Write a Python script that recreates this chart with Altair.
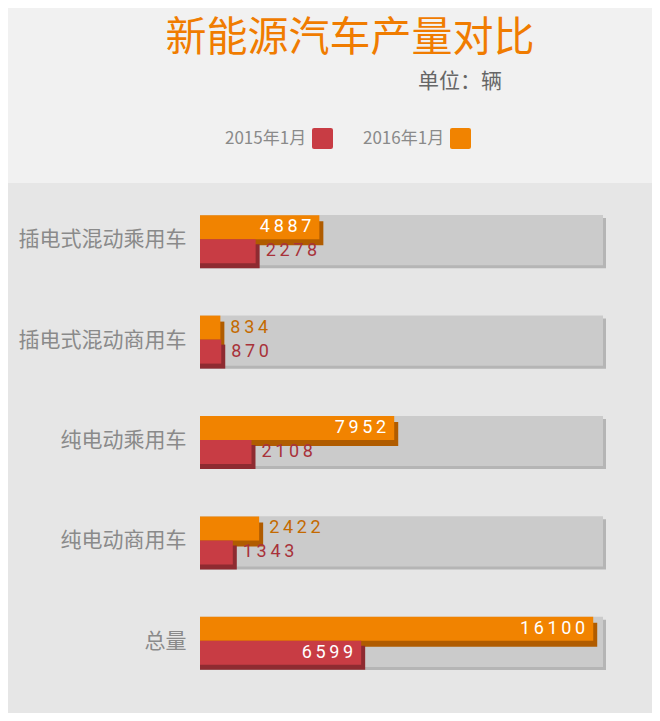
import altair as alt
import pandas as pd

# ---- data ----
title_text = "新能源汽车产量对比"
unit_text = "单位：辆"
categories = ["插电式混动乘用车", "插电式混动商用车", "纯电动乘用车", "纯电动商用车", "总量"]
series = ["2015年1月", "2016年1月"]
values_2015 = [2278, 870, 2108, 1343, 6599]
values_2016 = [4887, 834, 7952, 2422, 16100]

colors = ["#c83c44", "#f18300"]
shadow_colors = ["#8e2b31", "#b05c00"]
outside_colors = ["#a8323a", "#c46a00"]

X_MAX = 16500
THRESH = 3000
FONT = "Noto Sans CJK SC"
NUM_FONT = "Roboto"

rows = []
for s, vals in zip(series, [values_2015, values_2016]):
    for c, v in zip(categories, vals):
        rows.append({"category": c, "series": s, "value": v,
                     "label": "\u2009".join(str(v))})
df = pd.DataFrame(rows)
track_df = pd.DataFrame({"category": categories})

W, H = 403, 502

y_enc = alt.Y(
    "category:N", sort=categories,
    scale=alt.Scale(paddingInner=0.5, paddingOuter=0.25),
    axis=alt.Axis(title=None, domain=False, ticks=False, grid=False,
                  labelPadding=14, labelFontSize=21, labelColor="#8a8a8a",
                  labelFont=FONT),
)
x_enc = alt.X("value:Q", scale=alt.Scale(domain=[0, X_MAX]), stack=None, axis=None)
color_scale = alt.Scale(domain=series, range=colors)

SYM = 21
SYM_OFF = 87
rounded_sq = ("M-0.8,-1L0.8,-1Q1,-1 1,-0.8L1,0.8Q1,1 0.8,1L-0.8,1"
              "Q-1,1 -1,0.8L-1,-0.8Q-1,-1 -0.8,-1Z")
legend = alt.Legend(
    title=None, orient="none", legendX=25, legendY=-62, direction="horizontal",
    symbolType=rounded_sq, symbolSize=SYM * SYM, symbolStrokeWidth=0, symbolOpacity=1,
    labelFontSize=17, labelColor="#8a8a8a", labelFont=FONT,
    labelOffset={"expr": str(-(SYM + SYM_OFF))}, symbolOffset=SYM_OFF,
    columnPadding=30, padding=0,
)

bg = alt.Chart(pd.DataFrame({"k": [0]})).mark_rect(color="#f1f1f1").encode(
    x=alt.value(-192), x2=alt.value(452), y=alt.value(-182), y2=alt.value(-7)
)

title = alt.Chart(pd.DataFrame({"t": [title_text]})).mark_text(
    align="center", baseline="middle", fontSize=41, color="#f07c00", font=FONT
).encode(x=alt.value(150), y=alt.value(-151), text="t:N")

unit = alt.Chart(pd.DataFrame({"t": [unit_text]})).mark_text(
    align="left", baseline="middle", fontSize=21, color="#666666", font=FONT
).encode(x=alt.value(218), y=alt.value(-108), text="t:N")

track_shadow = alt.Chart(track_df).mark_bar(
    color="#b5b5b5", x2Offset=3, yOffset=3
).encode(y=y_enc, x=alt.value(0), x2=alt.value("width"))

track = alt.Chart(track_df).mark_bar(color="#cbcbcb").encode(
    y=y_enc, x=alt.value(0), x2=alt.value("width")
)

bar_off = {"2016年1月": -13, "2015年1月": 11}
shadow_dy = {"2016年1月": 6, "2015年1月": 5}
order = ["2016年1月", "2015年1月"]

shadows, bars, texts = [], [], []
for s in order:
    i = series.index(s)
    base = alt.Chart(df).transform_filter(alt.datum.series == s)
    shadows.append(
        base.mark_bar(color=shadow_colors[i], height=24, xOffset=4,
                      yOffset=bar_off[s] + shadow_dy[s])
        .encode(y=y_enc, x=x_enc)
    )
    bars.append(
        base.mark_bar(height=24, yOffset=bar_off[s], opacity=1)
        .encode(y=y_enc, x=x_enc,
                color=alt.Color("series:N", scale=color_scale, legend=legend))
    )
    texts.append(
        base.transform_filter(alt.datum.value >= THRESH)
        .mark_text(align="right", baseline="middle", dx=-8, yOffset=bar_off[s],
                   color="white", font=NUM_FONT, fontSize=18)
        .encode(y=y_enc, x=x_enc, text="label:N")
    )
    texts.append(
        base.transform_filter(alt.datum.value < THRESH)
        .mark_text(align="left", baseline="middle", dx=10, yOffset=bar_off[s],
                   color=outside_colors[i], font=NUM_FONT, fontSize=18)
        .encode(y=y_enc, x=x_enc, text="label:N")
    )

chart = alt.layer(
    bg, title, unit, track_shadow, track, *shadows, *bars, *texts
).properties(
    width=W, height=H,
    padding={"left": 192, "top": 182, "right": 49, "bottom": 21},
    autosize=alt.AutoSizeParams(type="none"),
    background="#e6e6e6",
).configure_view(stroke=None)

chart.save("out.html", embed_options={"renderer": "svg", "actions": False})
